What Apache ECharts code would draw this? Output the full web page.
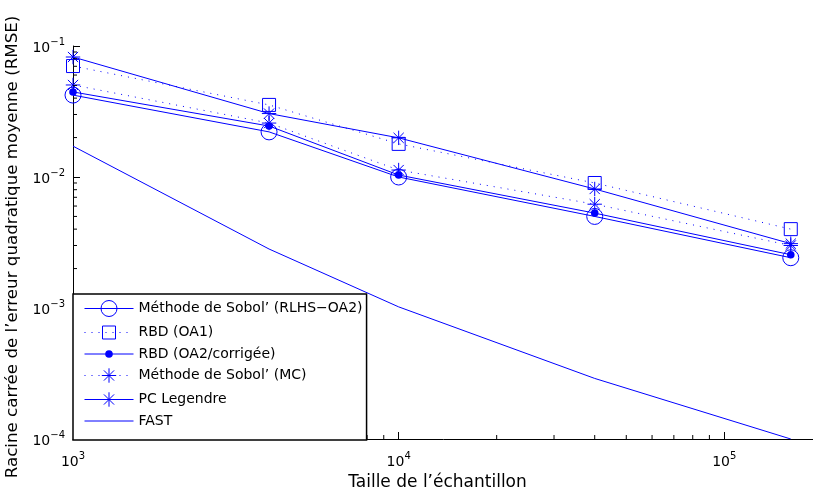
<!DOCTYPE html>
<html>
<head>
<meta charset="utf-8">
<script src="https://cdn.jsdelivr.net/npm/echarts@6/dist/echarts.min.js"></script>
<style>
html,body{margin:0;padding:0;background:#fff;}
#chart{width:813px;height:491px;}
</style>
</head>
<body>
<div id="chart"></div>
<script>
// ---- data ----
var sampleSizes = [1000, 4000, 10000, 40000, 160000];
var sobolRLHS   = [0.0422, 0.0221, 0.0100, 0.0050, 0.00242];
var rbdOA1      = [0.0703, 0.0355, 0.0179, 0.0090, 0.0040];
var rbdOA2      = [0.0446, 0.0245, 0.01035, 0.0053, 0.00255];
var sobolMC     = [0.0504, 0.0258, 0.0113, 0.0062, 0.0030];
var pcLegendre  = [0.0824, 0.0305, 0.0199, 0.0081, 0.0031];
var fast        = [0.0172, 0.00282, 0.00102, 0.00029, 0.0001];
var seriesNames = ["Méthode de Sobol’ (RLHS−OA2)", "RBD (OA1)", "RBD (OA2/corrigée)", "Méthode de Sobol’ (MC)", "PC Legendre", "FAST"];
var xLabel = "Taille de l’échantillon";
var yLabel = "Racine carrée de l’erreur quadratique moyenne (RMSE)";
var xMin = 1000, xMax = 199526, yMin = 1e-4, yMax = 1e-1;
var xMinorTicks = [2000,3000,4000,5000,6000,7000,8000,9000,20000,30000,40000,50000,60000,70000,80000,90000];
var yMinorTicks = [2e-4,3e-4,4e-4,5e-4,6e-4,7e-4,8e-4,9e-4,2e-3,3e-3,4e-3,5e-3,6e-3,7e-3,8e-3,9e-3,2e-2,3e-2,4e-2,5e-2,6e-2,7e-2,8e-2,9e-2];

function pairs(ys){ return sampleSizes.map(function(x,i){ return [x, ys[i]]; }); }

var BLUE = '#0000ff';
var FONT = '"DejaVu Sans", "Liberation Sans", Arial, sans-serif';
var DOT = [1, 6];

var SYM_SQUARE = 'path://M0,0M16,16M1.5,1.5L14.5,1.5L14.5,14.5L1.5,14.5Z';
var SYM_DOT = 'path://M0,0M16,16M4.2,8A3.8,3.8,0,1,1,11.8,8A3.8,3.8,0,1,1,4.2,8Z';
var SYM_STAR = 'path://M0,0M16,16M8,0.8L8,15.2M0.8,8L15.2,8M2.9,2.9L13.1,13.1M2.9,13.1L13.1,2.9';

function logLabel(v){
  var l = Math.log10(v);
  var e = Math.round(l);
  if (Math.abs(l - e) > 1e-6) return '';
  return '{b|10}{s|' + (e < 0 ? '\u2212' + (-e) : e) + '}';
}
var richLab = {
  b: {fontSize: 14, fontFamily: FONT, color: '#000', verticalAlign: 'bottom'},
  s: {fontSize: 10, fontFamily: FONT, color: '#000', verticalAlign: 'bottom', padding: [0,0,8,0]}
};

function mkLine(name, ys, symbol, dashed, itemStyle){
  return {
    name: name, type: 'line', data: pairs(ys),
    symbol: symbol, symbolSize: 16, showSymbol: symbol !== 'none',
    lineStyle: {color: BLUE, width: 1, type: dashed ? DOT : 'solid'},
    itemStyle: itemStyle, emphasis: {disabled: true}, animation: false, z: 3
  };
}
var hollow = {color: 'none', borderColor: BLUE, borderWidth: 1};
var filled = {color: BLUE, borderColor: BLUE, borderWidth: 0};

var chart = echarts.init(document.getElementById('chart'), null, {renderer: 'canvas'});
var option = {
  animation: false,
  backgroundColor: '#fff',
  grid: {left: 73, top: 46, right: -9, bottom: 52, containLabel: false, outerBoundsMode: 'none'},
  xAxis: {
    type: 'log', logBase: 10, min: xMin, max: xMax,
    name: xLabel, nameLocation: 'middle', nameGap: 27,
    nameTextStyle: {fontSize: 17, fontFamily: FONT, color: '#000', padding: [0, 20, 0, 0]},
    axisLine: {show: true, lineStyle: {color: '#000', width: 1}},
    axisTick: {show: true, inside: true, length: 7, lineStyle: {color: '#000'}},
    axisLabel: {formatter: logLabel, rich: richLab, margin: 12, showMaxLabel: false},
    splitLine: {show: false}, minorTick: {show: false}
  },
  yAxis: {
    type: 'log', logBase: 10, min: yMin, max: yMax,
    name: yLabel, nameLocation: 'middle', nameGap: 44, nameRotate: 90,
    nameTextStyle: {fontSize: 16.7, fontFamily: FONT, color: '#000', padding: [0, 9, 0, 0]},
    axisLine: {show: true, lineStyle: {color: '#000', width: 1}},
    axisTick: {show: true, inside: true, length: 7, lineStyle: {color: '#000'}},
    axisLabel: {formatter: logLabel, rich: richLab, margin: 8},
    splitLine: {show: false}, minorTick: {show: false}
  },
  legend: {
    orient: 'vertical', left: 73, top: 294,
    padding: [4, 4, 11, 11], itemGap: 3, itemWidth: 49, itemHeight: 20,
    backgroundColor: '#fff', borderColor: '#000', borderWidth: 1.5,
    textStyle: {fontSize: 14, fontFamily: FONT, color: '#000'},
    selectedMode: false, z: 10,
    data: [
      {name: seriesNames[0], itemStyle: hollow, lineStyle: {color: BLUE, width: 1, type: 'solid'}},
      {name: seriesNames[1], itemStyle: hollow, lineStyle: {color: BLUE, width: 1, type: DOT}},
      {name: seriesNames[2], itemStyle: filled, lineStyle: {color: BLUE, width: 1, type: 'solid'}},
      {name: seriesNames[3], itemStyle: hollow, lineStyle: {color: BLUE, width: 1, type: DOT}},
      {name: seriesNames[4], itemStyle: hollow, lineStyle: {color: BLUE, width: 1, type: 'solid'}},
      {name: seriesNames[5], itemStyle: {color: 'none', borderColor: 'none', borderWidth: 0, opacity: 0}, lineStyle: {color: BLUE, width: 1, type: 'solid'}}
    ]
  },
  series: [
    mkLine(seriesNames[0], sobolRLHS, 'circle', false, hollow),
    mkLine(seriesNames[1], rbdOA1, SYM_SQUARE, true, hollow),
    mkLine(seriesNames[2], rbdOA2, SYM_DOT, false, filled),
    mkLine(seriesNames[3], sobolMC, SYM_STAR, true, hollow),
    mkLine(seriesNames[4], pcLegendre, SYM_STAR, false, hollow),
    mkLine(seriesNames[5], fast, 'none', false, {color: BLUE}),
    {
      type: 'custom', name: 'xminor', silent: true, z: 4,
      data: xMinorTicks.map(function(v){ return [v, yMin]; }),
      renderItem: function(params, api){
        var p = api.coord([api.value(0), api.value(1)]);
        return {type: 'line', shape: {x1: p[0], y1: p[1], x2: p[0], y2: p[1] - 4}, style: {stroke: '#000', lineWidth: 1}};
      }
    },
    {
      type: 'custom', name: 'yminor', silent: true, z: 4,
      data: yMinorTicks.map(function(v){ return [xMin, v]; }),
      renderItem: function(params, api){
        var p = api.coord([api.value(0), api.value(1)]);
        return {type: 'line', shape: {x1: p[0], y1: p[1], x2: p[0] + 4, y2: p[1]}, style: {stroke: '#000', lineWidth: 1}};
      }
    }
  ]
};
chart.setOption(option);
</script>
</body>
</html>
